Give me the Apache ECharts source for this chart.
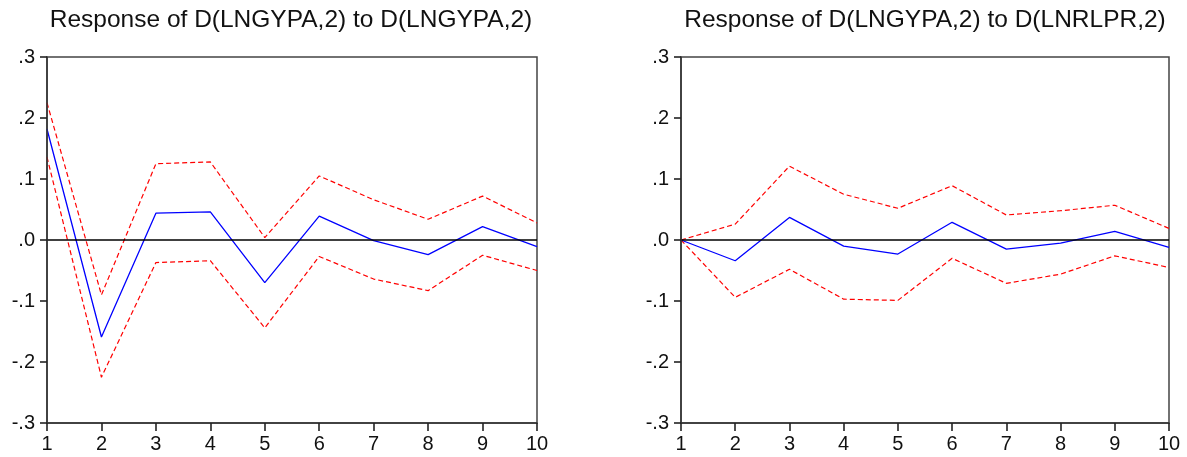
<!DOCTYPE html>
<html>
<head>
<meta charset="utf-8">
<script src="https://cdn.jsdelivr.net/npm/echarts@6/dist/echarts.min.js"></script>
<style>
html,body{margin:0;padding:0;background:#fff;}
#chart{width:1187px;height:457px;}
</style>
</head>
<body>
<div id="chart"></div>
<script>
var categories = ['1','2','3','4','5','6','7','8','9','10'];
var yTickLabels = ['-.3','-.2','-.1','.0','.1','.2','.3'];
var titles = ['Response of D(LNGYPA,2) to D(LNGYPA,2)', 'Response of D(LNGYPA,2) to D(LNRLPR,2)'];

var leftResponse = [0.182, -0.159, 0.044, 0.046, -0.070, 0.039, -0.001, -0.024, 0.022, -0.011];
var leftUpper    = [0.225, -0.090, 0.125, 0.128, 0.004, 0.105, 0.066, 0.034, 0.072, 0.028];
var leftLower    = [0.136, -0.225, -0.037, -0.034, -0.144, -0.027, -0.064, -0.083, -0.025, -0.050];

var rightResponse = [0.000, -0.034, 0.037, -0.010, -0.023, 0.029, -0.015, -0.005, 0.014, -0.012];
var rightUpper    = [0.000, 0.026, 0.121, 0.075, 0.052, 0.089, 0.041, 0.048, 0.057, 0.019];
var rightLower    = [0.000, -0.094, -0.048, -0.097, -0.099, -0.030, -0.071, -0.056, -0.026, -0.045];

var chart = echarts.init(document.getElementById('chart'), null, {renderer: 'canvas'});
var font = 'Liberation Sans, Arial, sans-serif';

var grids = [
  {left: 47, right: 650, top: 57, bottom: 34},
  {left: 681, right: 18, top: 57, bottom: 34}
];

function xAxis(i) {
  return {
    type: 'category', gridIndex: i, data: categories, boundaryGap: false, position: 'bottom', z: 10,
    axisLine: {show: true, onZero: false, lineStyle: {color: '#333', width: 1.5}},
    axisTick: {show: true, inside: false, interval: 0, length: 8, lineStyle: {color: '#222', width: 1.6}},
    axisLabel: {color: '#111', fontSize: 20, fontFamily: font, margin: 11, interval: 0},
    splitLine: {show: false}
  };
}
function yAxis(i) {
  return {
    type: 'value', gridIndex: i, min: -0.3, max: 0.3, interval: 0.1, position: 'left', z: 10,
    axisLine: {show: true, onZero: false, lineStyle: {color: '#333', width: 1.5}},
    axisTick: {show: true, inside: false, length: 7, lineStyle: {color: '#222', width: 1.6}},
    axisLabel: {color: '#111', fontSize: 20, fontFamily: font, margin: 12,
      formatter: function (v) { return yTickLabels[Math.round(v * 10) + 3]; }},
    splitLine: {show: false}
  };
}
function band(name, data, i) {
  return {
    name: name, type: 'line', xAxisIndex: i, yAxisIndex: i, data: data,
    symbol: 'none', silent: true,
    lineStyle: {color: '#ff0000', width: 1.2, type: [5, 3]}
  };
}
function resp(data, i) {
  return {
    type: 'line', xAxisIndex: i, yAxisIndex: i, data: data,
    symbol: 'none', silent: true, z: 3,
    lineStyle: {color: '#0000ff', width: 1.3},
    markLine: {
      silent: true, symbol: 'none', label: {show: false},
      lineStyle: {color: '#000', width: 1.5, type: 'solid'},
      data: [{yAxis: 0}]
    }
  };
}

chart.setOption({
  animation: false,
  backgroundColor: '#fff',
  title: [
    {text: titles[0], left: 286, top: 3, textAlign: 'center',
     textStyle: {fontFamily: font, fontSize: 24.5, fontWeight: 'normal', color: '#111'}},
    {text: titles[1], left: 920, top: 3, textAlign: 'center',
     textStyle: {fontFamily: font, fontSize: 24.5, fontWeight: 'normal', color: '#111'}}
  ],
  grid: grids.map(function (g) {
    return Object.assign({show: true, borderColor: '#444', borderWidth: 1.5, containLabel: false}, g);
  }),
  xAxis: [xAxis(0), xAxis(1)],
  yAxis: [yAxis(0), yAxis(1)],
  series: [
    band('upper', leftUpper, 0), band('lower', leftLower, 0), resp(leftResponse, 0),
    band('upper', rightUpper, 1), band('lower', rightLower, 1), resp(rightResponse, 1)
  ]
});
</script>
</body>
</html>
